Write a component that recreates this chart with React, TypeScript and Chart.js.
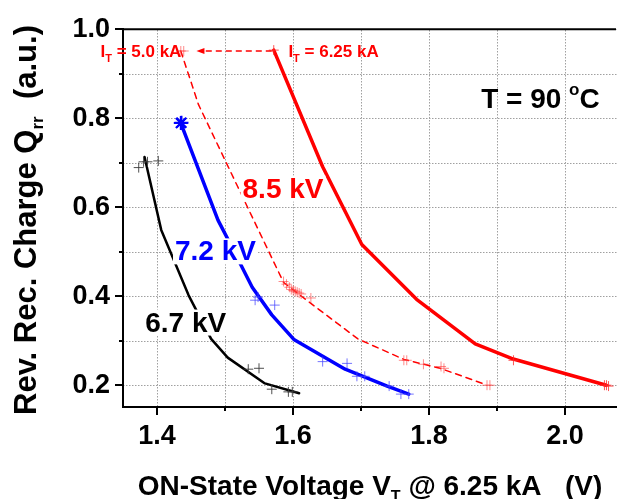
import React, { useEffect, useRef } from 'react';
import { Chart, registerables } from 'chart.js';

Chart.register(...registerables);

const FONT = "'Liberation Sans', Arial, Helvetica, sans-serif";

// Axis ticks (major every 0.2, minor every 0.1)
const xTickValues = [1.4, 1.5, 1.6, 1.7, 1.8, 1.9, 2.0];
const yTickValues = [0.2, 0.3, 0.4, 0.5, 0.6, 0.7, 0.8, 0.9, 1.0];

// 6.7 kV (black) fitted curve
const v67Line = [1.3817, 1.4062, 1.4465, 1.4796, 1.504, 1.5587, 1.609];
const q67Line = [0.713, 0.549, 0.402, 0.304, 0.262, 0.204, 0.182];
// 6.7 kV measured points
const v67Pts = [1.3731, 1.3803, 1.386, 1.4019, 1.5342, 1.55, 1.5688, 1.5932, 1.599];
const q67Pts = [0.689, 0.702, 0.702, 0.704, 0.236, 0.238, 0.191, 0.185, 0.185];

// 7.2 kV (blue) fitted curve
const v72Line = [1.435, 1.4897, 1.5069, 1.54, 1.5688, 1.6019, 1.6767, 1.7385, 1.7702];
const q72Line = [0.789, 0.571, 0.52, 0.42, 0.358, 0.302, 0.236, 0.198, 0.18];
// 7.2 kV measured points
const v72Pts = [1.5443, 1.5486, 1.5731, 1.6436, 1.6795, 1.694, 1.7055, 1.7414, 1.7587, 1.7702];
const q72Pts = [0.391, 0.398, 0.38, 0.253, 0.249, 0.22, 0.22, 0.198, 0.18, 0.18];
const v72Star = [1.435, 1.436];
const q72Star = [0.789, 0.79];

// 8.5 kV (red) at IT = 6.25 kA
const v85Line = [1.5717, 1.6436, 1.7012, 1.7817, 1.868, 1.9213, 2.0608];
const q85Line = [0.953, 0.691, 0.516, 0.393, 0.293, 0.26, 0.2];
const v85Pts = [1.5717, 1.9242, 2.058, 2.061, 2.064];
const q85Pts = [0.953, 0.256, 0.2, 0.2, 0.198];

// 8.5 kV (red) at IT = 5.0 kA (dashed)
const v85dLine = [1.435, 1.4609, 1.5184, 1.5861, 1.6235, 1.6955, 1.763, 1.8163, 1.8825];
const q85dLine = [0.951, 0.831, 0.647, 0.431, 0.387, 0.304, 0.258, 0.238, 0.202];
const v85dPts = [1.435, 1.4393, 1.5861, 1.5904, 1.5947, 1.5975, 1.6004, 1.6033, 1.6062, 1.6091, 1.612, 1.6263, 1.763, 1.7673, 1.7918, 1.8177, 1.822, 1.8853, 1.8896];
const q85dPts = [0.951, 0.951, 0.433, 0.427, 0.42, 0.415, 0.413, 0.411, 0.409, 0.407, 0.405, 0.396, 0.256, 0.256, 0.247, 0.242, 0.238, 0.2, 0.2];

// Arrow between the two current levels
const arrowFromV = 1.5688;
const arrowToV = 1.458;
const arrowQ = 0.951;

const toXY = (xs: number[], ys: number[]) => xs.map((v, i) => ({ x: v, y: ys[i] }));
const isMajor = (v: number) => Math.round(v * 10) % 2 === 0;

type Part = { t: string; size: number; dy?: number };

function drawRich(ctx: CanvasRenderingContext2D, parts: Part[], x: number, y: number, align: 'left' | 'center') {
  let total = 0;
  const widths: number[] = [];
  parts.forEach((p) => {
    ctx.font = `bold ${p.size}px ${FONT}`;
    const w = ctx.measureText(p.t).width;
    widths.push(w);
    total += w;
  });
  let cx = align === 'center' ? x - total / 2 : x;
  const start = cx;
  parts.forEach((p, i) => {
    ctx.font = `bold ${p.size}px ${FONT}`;
    ctx.fillText(p.t, cx, y + (p.dy || 0));
    cx += widths[i];
  });
  return { left: start, width: total };
}

const overlayPlugin = {
  id: 'overlay',
  afterDatasetsDraw(chart: any) {
    const { ctx, chartArea: a, scales } = chart;
    const xs = scales.x;
    const ys = scales.y;
    ctx.save();

    // dotted grid, placed behind everything already drawn
    ctx.globalCompositeOperation = 'destination-over';
    ctx.fillStyle = '#a0a0a0';
    xTickValues.forEach((v) => {
      const px = Math.round(xs.getPixelForValue(v));
      for (let y = Math.ceil(a.top); y < a.bottom; y += 3) ctx.fillRect(px, y, 1, 1.5);
    });
    yTickValues.forEach((v) => {
      const py = Math.round(ys.getPixelForValue(v));
      for (let x = Math.ceil(a.left); x < a.right; x += 3) ctx.fillRect(x, py, 1.5, 1);
    });
    ctx.globalCompositeOperation = 'source-over';

    ctx.textBaseline = 'alphabetic';
    ctx.textAlign = 'left';

    // top frame line
    ctx.strokeStyle = '#000';
    ctx.lineWidth = 2;
    ctx.beginPath();
    ctx.moveTo(a.left - 1, a.top);
    ctx.lineTo(a.right, a.top);
    ctx.stroke();

    // tick marks (outward)
    ctx.lineWidth = 2;
    xTickValues.forEach((v) => {
      const px = Math.round(xs.getPixelForValue(v));
      const len = isMajor(v) ? 8 : 4;
      ctx.beginPath();
      ctx.moveTo(px, a.bottom);
      ctx.lineTo(px, a.bottom + len);
      ctx.stroke();
    });
    yTickValues.forEach((v) => {
      const py = Math.round(ys.getPixelForValue(v));
      const len = isMajor(v) ? 8 : 4;
      ctx.beginPath();
      ctx.moveTo(a.left, py);
      ctx.lineTo(a.left - len, py);
      ctx.stroke();
    });

    // kV labels with white background
    const labels = [
      { t: '8.5 kV', v: 1.5853, q: 0.644, c: '#ff0000' },
      { t: '7.2 kV', v: 1.486, q: 0.503, c: '#0000ff' },
      { t: '6.7 kV', v: 1.4422, q: 0.343, c: '#000000' },
    ];
    labels.forEach((l) => {
      ctx.font = `bold 28px ${FONT}`;
      const w = ctx.measureText(l.t).width;
      const cx = xs.getPixelForValue(l.v);
      const cy = ys.getPixelForValue(l.q);
      const base = cy + 10;
      ctx.fillStyle = '#fff';
      ctx.fillRect(cx - w / 2 - 2, base - 22, w + 4, 26);
      ctx.fillStyle = l.c;
      ctx.fillText(l.t, cx - w / 2, base);
    });

    // T = 90 °C
    ctx.fillStyle = '#000';
    const tx = xs.getPixelForValue(1.8767);
    const tb = ys.getPixelForValue(0.824);
    drawRich(ctx, [
      { t: 'T = 90 ', size: 28 },
      { t: 'o', size: 17, dy: -13 },
      { t: 'C', size: 28 },
    ], tx, tb, 'left');

    // I_T annotations
    ctx.fillStyle = '#ff0000';
    const ib = ys.getPixelForValue(0.938);
    drawRich(ctx, [
      { t: 'I', size: 17 },
      { t: 'T', size: 11, dy: 5 },
      { t: ' = 5.0 kA', size: 17 },
    ], xs.getPixelForValue(1.3169), ib, 'left');
    drawRich(ctx, [
      { t: 'I', size: 17 },
      { t: 'T', size: 11, dy: 5 },
      { t: ' = 6.25 kA', size: 17 },
    ], xs.getPixelForValue(1.5932), ib, 'left');

    // dashed arrow
    const ay = ys.getPixelForValue(arrowQ);
    const ax1 = xs.getPixelForValue(arrowFromV);
    const ax2 = xs.getPixelForValue(arrowToV);
    ctx.strokeStyle = '#ff0000';
    ctx.lineWidth = 1.5;
    ctx.setLineDash([6, 4]);
    ctx.beginPath();
    ctx.moveTo(ax1, ay);
    ctx.lineTo(ax2 + 7, ay);
    ctx.stroke();
    ctx.setLineDash([]);
    ctx.beginPath();
    ctx.moveTo(ax2, ay);
    ctx.lineTo(ax2 + 8, ay - 3);
    ctx.lineTo(ax2 + 8, ay + 3);
    ctx.closePath();
    ctx.fill();

    // axis titles
    ctx.fillStyle = '#000';
    drawRich(ctx, [
      { t: 'ON-State Voltage V', size: 28 },
      { t: 'T', size: 16, dy: 7 },
      { t: ' @ 6.25 kA   (V)', size: 28 },
    ], 370, 495, 'center');

    ctx.save();
    ctx.translate(36, 220);
    ctx.rotate(-Math.PI / 2);
    drawRich(ctx, [
      { t: 'Rev. Rec. Charge Q', size: 31 },
      { t: 'rr', size: 17, dy: 7 },
      { t: '  (a.u.)', size: 31 },
    ], 0, 0, 'center');
    ctx.restore();

    ctx.restore();
  },
};

const tickFont = { family: FONT, size: 27, weight: 'bold' as const };

export default function App() {
  const ref = useRef<HTMLCanvasElement>(null);
  useEffect(() => {
    if (!ref.current) return;
    const crossDs = (xs: number[], ys: number[], color: string) => ({
      data: toXY(xs, ys),
      showLine: false,
      pointStyle: 'cross',
      pointRadius: 5,
      pointBorderWidth: 1,
      borderColor: color,
      backgroundColor: color,
    });
    const lineDs = (xs: number[], ys: number[], color: string, width: number, dash: number[] = []) => ({
      data: toXY(xs, ys),
      showLine: true,
      pointRadius: 0,
      borderColor: color,
      backgroundColor: color,
      borderWidth: width,
      borderDash: dash,
      tension: 0,
      borderCapStyle: 'round',
      borderJoinStyle: 'round',
    });
    const chart = new Chart(ref.current, {
      type: 'scatter',
      data: {
        datasets: [
          crossDs(v67Pts, q67Pts, 'rgba(60,60,60,0.9)'),
          crossDs(v72Pts, q72Pts, 'rgba(70,70,255,0.75)'),
          crossDs(v85Pts, q85Pts, 'rgba(255,40,40,0.8)'),
          crossDs(v85dPts, q85dPts, 'rgba(255,60,60,0.6)'),
          lineDs(v85dLine, q85dLine, '#ff0000', 1.5, [6, 5]),
          lineDs(v67Line, q67Line, '#000000', 2.5),
          lineDs(v72Line, q72Line, '#0000ff', 3.5),
          lineDs(v85Line, q85Line, '#ff0000', 3.5),
          {
            data: toXY(v72Star, q72Star),
            showLine: false,
            pointStyle: 'star',
            pointRadius: 7,
            pointBorderWidth: 2,
            borderColor: '#0000ff',
            backgroundColor: '#0000ff',
          },
        ] as any,
      },
      options: {
        animation: false,
        responsive: false,
        devicePixelRatio: 1,
        layout: { padding: { top: 24, right: 0, left: 0, bottom: 0 } },
        plugins: {
          legend: { display: false },
          tooltip: { enabled: false },
          title: { display: false },
        },
        scales: {
          x: {
            type: 'linear',
            min: 1.35,
            max: 2.075,
            afterBuildTicks: (s: any) => {
              s.ticks = xTickValues.map((v) => ({ value: v }));
            },
            afterFit: (s: any) => {
              s.height = 92;
            },
            grid: { display: false, drawTicks: false, tickLength: 0 },
            border: { display: true, color: '#000', width: 2 },
            ticks: {
              autoSkip: false,
              maxRotation: 0,
              padding: 13,
              color: '#000',
              font: tickFont,
              callback: (v: any) => (isMajor(Number(v)) ? Number(v).toFixed(1) : ''),
            },
          },
          y: {
            type: 'linear',
            min: 0.151,
            max: 1.0,
            afterBuildTicks: (s: any) => {
              s.ticks = yTickValues.map((v) => ({ value: v }));
            },
            afterFit: (s: any) => {
              s.width = 123;
            },
            grid: { display: false, drawTicks: false, tickLength: 0 },
            border: { display: true, color: '#000', width: 2 },
            ticks: {
              autoSkip: false,
              padding: 13,
              color: '#000',
              font: tickFont,
              callback: (v: any) => (isMajor(Number(v)) ? Number(v).toFixed(1) : ''),
            },
          },
        },
      } as any,
      plugins: [overlayPlugin],
    });
    return () => chart.destroy();
  }, []);
  return (
    <div style={{ position: 'fixed', left: 0, top: 0, width: 625, height: 499, background: '#fff' }}>
      <canvas ref={ref} width={625} height={499} style={{ display: 'block' }} />
    </div>
  );
}
